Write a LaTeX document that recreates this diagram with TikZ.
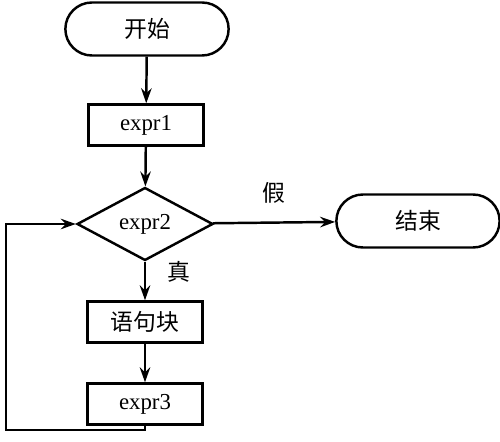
\documentclass[tikz,border=0pt]{standalone}
\usepackage{fontspec}
\setmainfont{Liberation Serif}
\newfontfamily\cjk{Noto Sans CJK SC}
\usetikzlibrary{arrows.meta,shapes.misc,shapes.geometric}

\begin{document}
\begin{tikzpicture}
[x=0.02cm,y=-0.02cm,>={Stealth[length=3mm,width=2.1mm,inset=1mm]},line width=1.4pt,font=\fontsize{13}{15}\selectfont,
term/.style={draw,rounded rectangle,minimum width=3.5cm,minimum height=1.06cm},
box/.style={draw,rectangle,minimum width=2.3cm,minimum height=0.82cm},
test/.style={draw,diamond,inner sep=0pt,minimum width=2.72cm,minimum height=1.46cm},]

\useasboundingbox (0,0) rectangle (500,442);

%Start and end
\node (start) at (147,29)[term] {\cjk 开始};
\node (stop) at (418,221)[term] {\cjk 结束};

%Loop parts
\node (init) at (146,125)[box] {expr1};
\node (cond) at (145,224)[test] {expr2};
\node (body) at (145,322)[box] {\cjk 语句块};
\node (step3) at (145,404)[box] {expr3};

%Corner of the back edge
\coordinate (back) at (6,430);

%Drawing arrows
\draw[->] (start) -- (init);
\draw[->] (init) -- (cond);
\draw[->] (cond) -- node[above=2.5mm] {\cjk 假} (stop);
\draw[->] (cond) -- node[pos=0.25,right=3mm] {\cjk 真} (body);
\draw[->] (body) -- (step3);
\draw[->] (step3.south) |- (back) |- (cond.west);

\end{tikzpicture}
\end{document}
